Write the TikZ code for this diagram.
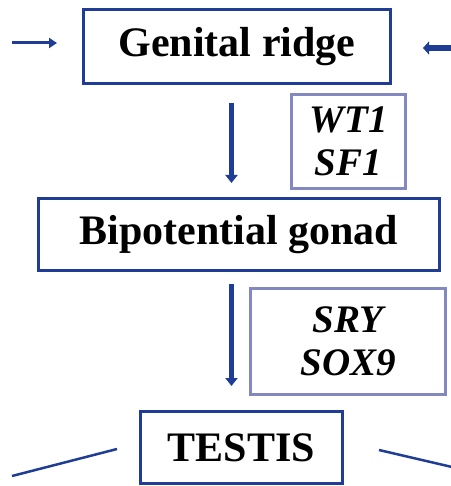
\documentclass[tikz,border=0pt]{standalone}
\usepackage{fontspec}
\setmainfont{Liberation Serif}
\usetikzlibrary{arrows.meta}
\definecolor{dkblue}{RGB}{31,61,150}
\definecolor{ltblue}{RGB}{132,136,192}
\begin{document}
\begin{tikzpicture}[x=1pt,y=1pt,
  mainbox/.style={draw=dkblue,line width=3.5pt,rectangle,inner sep=0pt,font=\fontsize{42}{44}\selectfont\bfseries,text=black},
  genebox/.style={draw=ltblue,line width=3.5pt,rectangle,inner sep=0pt,align=center,font=\fontsize{39}{43}\selectfont\bfseries\itshape,text=black},
  flow/.style={draw=dkblue,line width=5.5pt,-{Triangle[width=12pt,length=8pt]}},
  link/.style={draw=dkblue,line width=2.5pt}]
\useasboundingbox (0,0) rectangle (450,-486);
\node[mainbox,minimum width=307pt,minimum height=74pt] (gr) at (237,-46.5) {Genital ridge};
\node[mainbox,minimum width=401pt,minimum height=72pt] (bg) at (239,-234.5) {Bipotential gonad};
\node[mainbox,minimum width=202pt,minimum height=72pt] (te) at (241.5,-447.5) {TESTIS};
\node[genebox,minimum width=114pt,minimum height=94pt] (g1) at (348.5,-141.5) {WT1\\SF1};
\node[genebox,minimum width=195pt,minimum height=106pt] (g2) at (348,-341.5) {SRY\\SOX9};
\coordinate (la) at (12,-43);
\coordinate (lat) at (57,-43);
\coordinate (ra) at (452,-48);
\coordinate (rat) at (423,-48);
\coordinate (a1s) at (231.5,-103);
\coordinate (a1e) at (231.5,-183);
\coordinate (a2s) at (231.5,-284);
\coordinate (a2e) at (231.5,-386);
\coordinate (l1a) at (12,-476);
\coordinate (l1b) at (117,-449);
\coordinate (l2a) at (379,-450);
\coordinate (l2b) at (452,-467);
\draw[flow] (a1s) -- (a1e);
\draw[flow] (a2s) -- (a2e);
\draw[draw=dkblue,line width=3pt,-{Triangle[width=10pt,length=8pt]}] (la) -- (lat);
\draw[draw=dkblue,line width=6.5pt,-{Triangle[width=13pt,length=6pt]}] (ra) -- (rat);
\draw[link] (l1a) -- (l1b);
\draw[link] (l2a) -- (l2b);
\end{tikzpicture}
\end{document}
